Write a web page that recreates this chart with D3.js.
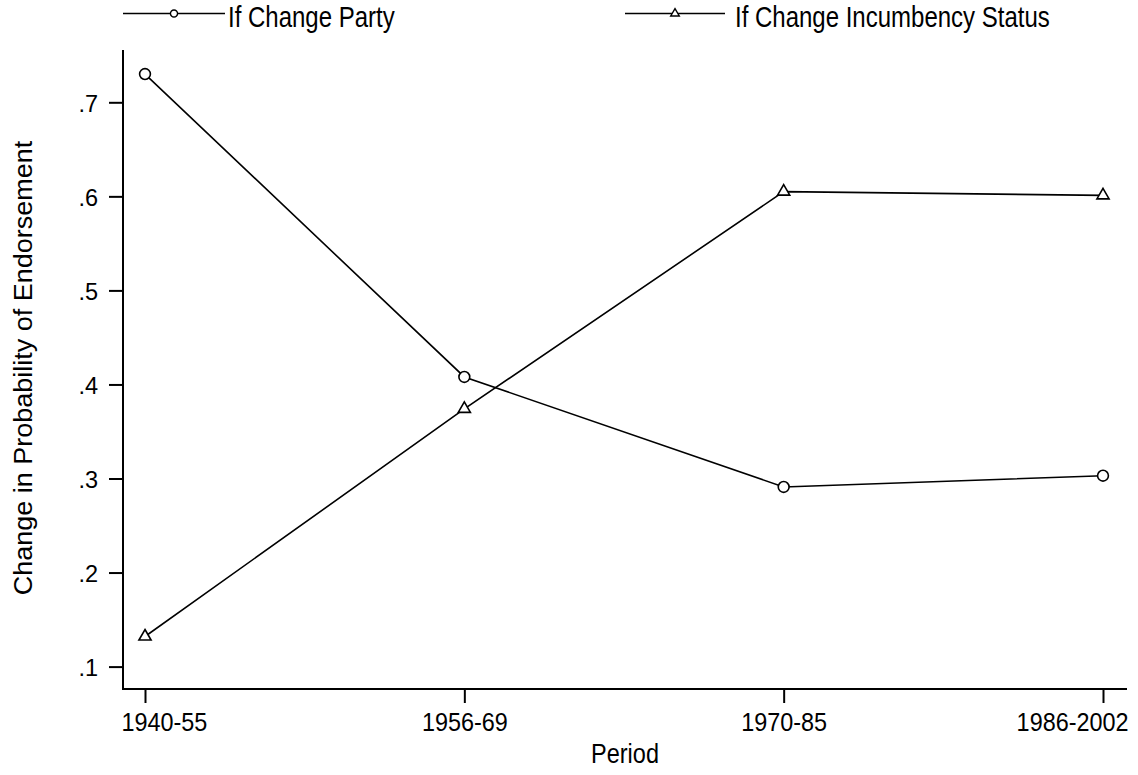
<!DOCTYPE html>
<html>
<head>
<meta charset="utf-8">
<script src="https://cdn.jsdelivr.net/npm/d3@7"></script>
<style>
  html, body { margin: 0; padding: 0; background: #fff; }
  svg { display: block; }
  text { font-family: "Liberation Sans", Arial, Helvetica, sans-serif; fill: #000; }
</style>
</head>
<body>
<svg id="chart" width="1138" height="775"></svg>
<script>
// ---- data ----
const categories = ["1940-55", "1956-69", "1970-85", "1986-2002"];
const partyValues = [0.730, 0.408, 0.291, 0.303];
const incumbencyValues = [0.132, 0.374, 0.605, 0.601];
const seriesNames = ["If Change Party", "If Change Incumbency Status"];
const yTickValues = [0.1, 0.2, 0.3, 0.4, 0.5, 0.6, 0.7];
const yTickLabels = [".1", ".2", ".3", ".4", ".5", ".6", ".7"];
const xTitle = "Period";
const yTitle = "Change in Probability of Endorsement";

// ---- layout ----
const svg = d3.select("#chart");
const axisLeftX = 123, axisBottomY = 689, axisTopY = 50, axisRightX = 1127;

const x = d3.scalePoint().domain(categories).range([145, 1103]).padding(0);
const y = d3.scaleLinear().domain([0.1, 0.7]).range([666.6, 102.3]);

const series = [
  { name: seriesNames[0], values: partyValues, symbol: d3.symbolCircle, size: 92, legSize: 40 },
  { name: seriesNames[1], values: incumbencyValues, symbol: d3.symbolTriangle, size: 64, legSize: 32 }
];

// ---- axes ----
const yAxis = d3.axisLeft(y).tickValues(yTickValues)
  .tickFormat((d, i) => yTickLabels[i]).tickSize(14).tickSizeOuter(0).tickPadding(10);
const gy = svg.append("g").attr("transform", `translate(${axisLeftX},0)`).call(yAxis);
gy.select(".domain").remove();
gy.selectAll(".tick line").attr("stroke", "#000").attr("stroke-width", 2);
gy.selectAll(".tick text")
  .attr("font-size", 24)
  .attr("x", null).attr("dy", null)
  .attr("transform", "translate(-25,9) scale(0.98,1)")
  .attr("text-anchor", "end");

const xAxis = d3.axisBottom(x).tickSize(14).tickSizeOuter(0);
const gx = svg.append("g").attr("transform", `translate(0,${axisBottomY})`).call(xAxis);
gx.select(".domain").remove();
gx.selectAll(".tick line").attr("stroke", "#000").attr("stroke-width", 2);
const xsx = 0.9;
gx.selectAll(".tick text")
  .attr("font-size", 26)
  .attr("dy", null).attr("y", 0)
  .attr("text-anchor", "middle")
  .each(function (d) {
    const w = this.getComputedTextLength() * xsx;
    const cx = x(d);
    let shift = 0;
    if (cx - w / 2 < axisLeftX - 2) shift = (axisLeftX - 2) - (cx - w / 2);
    if (cx + w / 2 > axisRightX + 1) shift = (axisRightX + 1) - (cx + w / 2);
    d3.select(this).attr("transform", `translate(${shift},42) scale(${xsx},1)`);
  });

// axis lines
svg.append("line").attr("x1", axisLeftX).attr("x2", axisLeftX)
  .attr("y1", axisTopY).attr("y2", axisBottomY + 1)
  .attr("stroke", "#000").attr("stroke-width", 2);
svg.append("line").attr("x1", axisLeftX - 1).attr("x2", axisRightX)
  .attr("y1", axisBottomY).attr("y2", axisBottomY)
  .attr("stroke", "#000").attr("stroke-width", 2);

// titles
svg.append("text")
  .attr("transform", `translate(${(axisLeftX + axisRightX) / 2},763) scale(0.84,1)`)
  .attr("text-anchor", "middle").attr("font-size", 28).text(xTitle);
svg.append("text")
  .attr("transform", "translate(32,368) rotate(-90) scale(1.08,1)")
  .attr("text-anchor", "middle").attr("font-size", 25).text(yTitle);

// ---- series ----
const line = d3.line().x((d, i) => x(categories[i])).y(d => y(d));
series.forEach(s => {
  svg.append("path").datum(s.values)
    .attr("d", line).attr("fill", "none")
    .attr("stroke", "#000").attr("stroke-width", 1.6);
});
series.forEach(s => {
  svg.append("g").selectAll("path").data(s.values).join("path")
    .attr("transform", (d, i) => `translate(${x(categories[i])},${y(d)})`)
    .attr("d", d3.symbol().type(s.symbol).size(s.size))
    .attr("fill", "#fff").attr("stroke", "#000").attr("stroke-width", 1.6);
});

// ---- legend ----
const legendItems = [
  { x0: 123, x1: 225, tx: 228 },
  { x0: 625, x1: 725, tx: 735 }
];
const legY = 13.5;
series.forEach((s, i) => {
  const L = legendItems[i];
  const g = svg.append("g");
  g.append("line").attr("x1", L.x0).attr("x2", L.x1).attr("y1", legY).attr("y2", legY)
    .attr("stroke", "#000").attr("stroke-width", 1.7);
  g.append("path")
    .attr("transform", `translate(${(L.x0 + L.x1) / 2},${legY})`)
    .attr("d", d3.symbol().type(s.symbol).size(s.legSize))
    .attr("fill", "#fff").attr("stroke", "#000").attr("stroke-width", 1.4);
  g.append("text")
    .attr("transform", `translate(${L.tx},27) scale(0.8,1)`)
    .attr("font-size", 30).text(s.name);
});
</script>
</body>
</html>
